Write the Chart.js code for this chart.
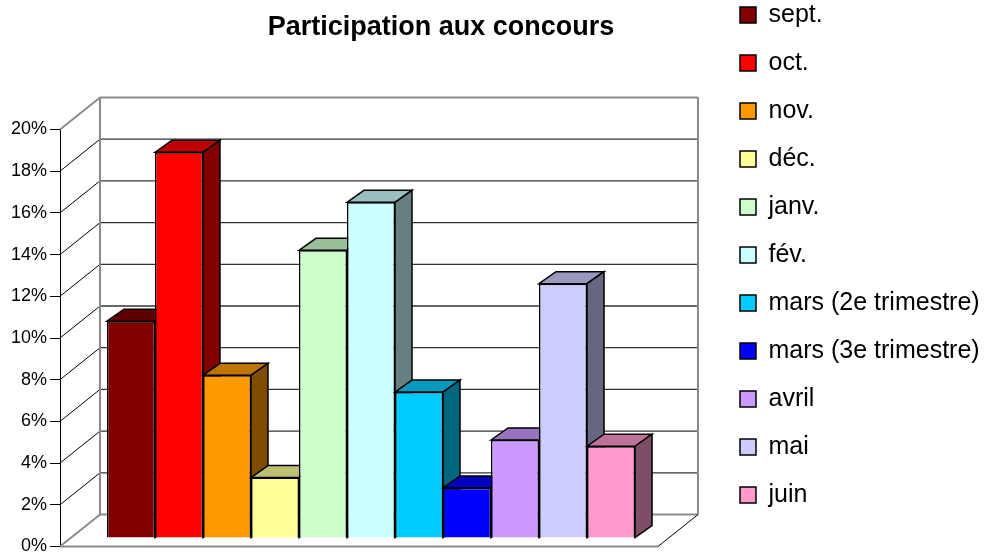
<!DOCTYPE html>
<html><head><meta charset="utf-8">
<script src="https://cdn.jsdelivr.net/npm/chart.js@4.4.1/dist/chart.umd.min.js"></script>
<style>html,body{margin:0;padding:0;background:#fff;}canvas{display:block;}</style>
</head><body>
<canvas id="c" width="987" height="553"></canvas>
<script>
// ---- data ----
const categories = [''];
const seriesNames = ['sept.', 'oct.', 'nov.', 'déc.', 'janv.', 'fév.', 'mars (2e trimestre)', 'mars (3e trimestre)', 'avril', 'mai', 'juin'];
const seriesValues = [10.4, 18.5, 7.8, 2.9, 13.8, 16.1, 7.0, 2.4, 4.7, 12.2, 4.4];
const tickValues = [0, 2, 4, 6, 8, 10, 12, 14, 16, 18, 20];
const chartTitle = 'Participation aux concours';

// ---- styles ----
const seriesColors = ['#800000', '#FF0000', '#FF9900', '#FFFF99', '#CCFFCC', '#CCFFFF', '#00CCFF', '#0000FF', '#CC99FF', '#CCCCFF', '#FF99CC'];
const WALL = {x: 40, y: -32};
const BAR_SHIFT = {x: 12, y: -8.5};
const BAR_DEPTH = {x: 17, y: -12};

function shade(hex, f) {
  const n = parseInt(hex.slice(1), 16);
  const r = (n >> 16) & 255, g = (n >> 8) & 255, b = n & 255;
  return 'rgb(' + Math.round(r * f) + ',' + Math.round(g * f) + ',' + Math.round(b * f) + ')';
}

Chart.defaults.font.family = "'Liberation Sans', Arial, sans-serif";
Chart.defaults.color = '#000';

const threeD = {
  id: 'threeD',
  afterLayout(chart) {
    const lg = chart.legend;
    if (lg) {
      lg.left = 717; lg.right = 987; lg.width = 270;
      lg.top = -20.5; lg.bottom = 553; lg.height = 573.5;
    }
    const tb = chart.titleBlock;
    if (tb) { tb.left = 0; tb.right = 882; tb.width = 882; }
  },
  beforeDatasetsDraw(chart) {
    const ctx = chart.ctx;
    const {left, right, top, bottom} = chart.chartArea;
    const ys = chart.scales.y;
    ctx.save();
    tickValues.forEach((v, i) => {
      const y = ys.getPixelForValue(v);
      const edge = (i === 0 || i === tickValues.length - 1);
      ctx.beginPath();
      ctx.strokeStyle = edge ? '#8a8a8a' : '#000';
      ctx.lineWidth = edge ? 2 : 1;
      ctx.moveTo(left, y); ctx.lineTo(left + WALL.x, y + WALL.y);
      ctx.stroke();
      ctx.beginPath();
      ctx.strokeStyle = edge ? '#8a8a8a' : '#333';
      ctx.lineWidth = edge ? 2 : 1.3;
      ctx.moveTo(left + WALL.x, y + WALL.y); ctx.lineTo(right + WALL.x, y + WALL.y);
      ctx.stroke();
    });
    ctx.beginPath();
    ctx.strokeStyle = '#8a8a8a'; ctx.lineWidth = 2;
    ctx.moveTo(left + WALL.x, top + WALL.y); ctx.lineTo(left + WALL.x, bottom + WALL.y);
    ctx.moveTo(right + WALL.x, top + WALL.y); ctx.lineTo(right + WALL.x, bottom + WALL.y);
    ctx.moveTo(left, bottom); ctx.lineTo(right, bottom);
    ctx.stroke();
    ctx.beginPath();
    ctx.strokeStyle = '#000'; ctx.lineWidth = 1;
    ctx.moveTo(right, bottom); ctx.lineTo(right + WALL.x, bottom + WALL.y);
    ctx.stroke();
    ctx.restore();
  },
  beforeDatasetDraw() { return false; },
  afterDatasetsDraw(chart) {
    const ctx = chart.ctx;
    ctx.save();
    ctx.translate(BAR_SHIFT.x, BAR_SHIFT.y);
    chart.data.datasets.forEach((ds, i) => {
      const meta = chart.getDatasetMeta(i);
      if (meta.hidden) return;
      meta.data.forEach(el => {
        const p = el.getProps(['x', 'y', 'base', 'width'], true);
        el.draw(ctx);
        const l = p.x - p.width / 2, r = p.x + p.width / 2;
        const dx = BAR_DEPTH.x, dy = BAR_DEPTH.y;
        ctx.lineWidth = 1.5; ctx.strokeStyle = '#000'; ctx.lineJoin = 'miter';
        ctx.beginPath();
        ctx.moveTo(l, p.y); ctx.lineTo(l + dx, p.y + dy); ctx.lineTo(r + dx, p.y + dy); ctx.lineTo(r, p.y); ctx.closePath();
        ctx.fillStyle = shade(ds.backgroundColor, 0.75); ctx.fill(); ctx.stroke();
        ctx.beginPath();
        ctx.moveTo(r, p.y); ctx.lineTo(r + dx, p.y + dy); ctx.lineTo(r + dx, p.base + dy); ctx.lineTo(r, p.base); ctx.closePath();
        ctx.fillStyle = shade(ds.backgroundColor, 0.5); ctx.fill(); ctx.stroke();
      });
    });
    ctx.restore();
  }
};

new Chart(document.getElementById('c'), {
  type: 'bar',
  data: {
    labels: categories,
    datasets: seriesNames.map((name, i) => ({
      label: name,
      data: [seriesValues[i]],
      backgroundColor: seriesColors[i],
      borderColor: '#000',
      borderWidth: 1.5,
      categoryPercentage: 0.883,
      barPercentage: 1.0
    }))
  },
  options: {
    responsive: false,
    animation: false,
    events: [],
    layout: {padding: {left: 0, right: 129, top: 0, bottom: 0}},
    scales: {
      x: {
        display: true,
        grid: {display: false},
        border: {display: false},
        ticks: {display: false},
        afterFit(s) { s.height = 6.5; s.paddingLeft = 0; s.paddingRight = 0; }
      },
      y: {
        min: 0, max: 20,
        afterBuildTicks(s) { s.ticks = tickValues.map(v => ({value: v})); },
        ticks: {callback: v => v + '%', color: '#000', font: {size: 18}, padding: 3},
        grid: {drawOnChartArea: false, drawTicks: true, tickLength: 10, color: '#000', lineWidth: 1},
        border: {display: true, color: '#000', width: 1},
        afterFit(s) { s.width = 60; s.paddingTop = 0; s.paddingBottom = 0; }
      }
    },
    plugins: {
      title: {
        display: true,
        text: chartTitle,
        color: '#000',
        font: {size: 27, weight: 'bold', lineHeight: 1.2},
        padding: {top: 11.8, bottom: 85.3}
      },
      legend: {
        position: 'right',
        align: 'start',
        maxWidth: 200,
        labels: {color: '#000', font: {size: 25}, boxWidth: 16, boxHeight: 16, padding: 23}
      },
      tooltip: {enabled: false}
    }
  },
  plugins: [threeD]
});
</script>
</body></html>
